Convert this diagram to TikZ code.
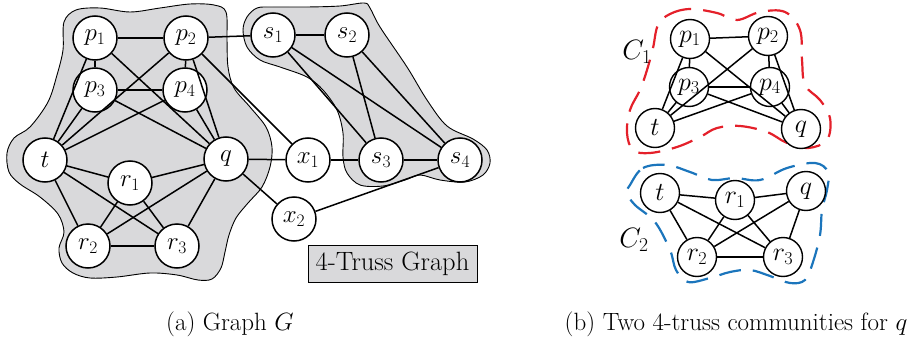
\RequirePackage{fix-cm}
\documentclass[tikz,border=0pt]{standalone}
\begin{document}
\begin{tikzpicture}[x=1pt,y=-1pt,
  vtx/.style={circle, draw, line width=1.5pt, fill=white, minimum size=44pt, inner sep=0pt, font=\fontsize{25}{25}\selectfont},
  svtx/.style={circle, draw, line width=1.4pt, fill=white, minimum size=39pt, inner sep=0pt, font=\fontsize{26}{26}\selectfont},
  edge/.style={line width=1.5pt},
  blob/.style={fill=blobgray, draw=black, line width=0.9pt},
  captext/.style={anchor=base, font=\fontsize{25}{25}\selectfont},
  redline/.style={draw=myred, line width=2.2pt, dash pattern=on 22pt off 12pt},
  blueline/.style={draw=myblue, line width=2.2pt, dash pattern=on 22pt off 12pt}
]
\definecolor{blobgray}{HTML}{D9D9DB}
\definecolor{myred}{HTML}{E4202A}
\definecolor{myblue}{HTML}{1B75BC}
\useasboundingbox (0,0) rectangle (924,340);

% blobs
\draw[blob] plot[smooth cycle, tension=0.55] coordinates {
 (64,22) (76,10) (100,8) (130,12) (160,8) (190,4) (214,5) (226,12) (227,40) (228,67)
 (234,88) (250,107) (266,127) (272,147) (270,167) (262,187) (248,203) (236,218)
 (229,235) (225,252) (221,268) (212,279) (198,280) (177,275) (150,273) (117,277)
 (90,278) (73,273) (62,263) (59,248) (64,232) (58,214) (40,197) (20,184) (9,172)
 (7,153) (14,138) (30,127) (48,102) (57,75) (63,50)};
\draw[blob] plot[smooth cycle, tension=0.55] coordinates {
 (247,17) (257,8) (273,7) (307,7) (340,6) (364,3) (370,8) (380,27) (407,67) (427,100)
 (447,126) (473,139) (487,150) (490,163) (483,175) (465,182) (440,180) (420,175)
 (405,180) (383,186) (360,185) (347,173) (343,157) (343,133) (337,110) (323,90)
 (307,77) (280,67) (260,60) (247,47) (243,30)};

% left graph nodes
\node[vtx] (p1) at (95,38) {$p_1$};
\node[vtx] (p2) at (186,38) {$p_2$};
\node[vtx] (p3) at (95,90) {$p_3$};
\node[vtx] (p4) at (185,90) {$p_4$};
\node[vtx] (t) at (45,160) {$t$};
\node[vtx] (q) at (226,159) {$q$};
\node[vtx] (r1) at (130,183) {$r_1$};
\node[vtx] (r2) at (88,246) {$r_2$};
\node[vtx] (r3) at (177,246) {$r_3$};
\node[vtx] (s1) at (273,35) {$s_1$};
\node[vtx] (s2) at (347,35) {$s_2$};
\node[vtx] (x1) at (308,160) {$x_1$};
\node[vtx] (s3) at (381,160) {$s_3$};
\node[vtx] (s4) at (460,160) {$s_4$};
\node[vtx] (x2) at (294,219) {$x_2$};

\foreach \a/\b in {p1/p2,p1/p3,p2/p4,p3/p4,p1/t,p3/t,p2/t,p4/t,p1/q,p3/q,p2/q,p4/q,
  t/r1,t/r2,t/r3,q/r1,q/r2,q/r3,r1/r2,r1/r3,r2/r3,
  p2/s1,p2/x1,q/x1,q/x2,x1/s3,x2/s4,s1/s2,s1/s3,s1/s4,s2/s3,s2/s4,s3/s4}
  \draw[edge] (\a) -- (\b);

\node[draw, fill=blobgray, line width=1pt, minimum width=169pt, minimum height=37pt, inner sep=0pt,
  font=\fontsize{26.5}{26.5}\selectfont] (box) at (392.5,263.5) {4-Truss Graph};

% right panel C1
\draw[redline] plot[smooth cycle, tension=0.6] coordinates {
 (658,25) (670,14) (690,9) (717,13) (737,20) (760,12) (785,12) (800,30) (802,60) (805,85)
 (820,100) (830,118) (827,140) (808,148) (787,143) (767,132) (740,126) (717,128)
 (700,137) (677,147) (650,153) (633,150) (627,133) (630,110) (640,90) (647,70) (653,48)};
\node[svtx] (cp1) at (690,39) {$p_1$};
\node[svtx] (cp2) at (768,36) {$p_2$};
\node[svtx] (cp3) at (689,87) {$p_3$};
\node[svtx] (cp4) at (770,87) {$p_4$};
\node[svtx] (ct) at (655,128) {$t$};
\node[svtx] (cq) at (801,129) {$q$};
\foreach \a/\b in {cp1/cp2,cp1/cp3,cp2/cp4,cp3/cp4,cp1/ct,cp3/ct,cp2/ct,cp4/ct,cp1/cq,cp3/cq,cp2/cq,cp4/cq}
  \draw[edge] (\a) -- (\b);
\node[font=\fontsize{28}{28}\selectfont] (lc1) at (637,52) {$C_1$};

% right panel C2
\draw[blueline] plot[smooth cycle, tension=0.6] coordinates {
 (630,185) (643,168) (667,165) (690,172) (712,180) (735,178) (760,180) (787,168) (815,163)
 (828,172) (827,190) (822,210) (820,235) (813,262) (805,280) (790,283) (770,276) (750,270)
 (730,272) (710,278) (688,282) (676,270) (670,250) (655,222) (635,205) (627,193)};
\node[svtx] (dt) at (660,193) {$t$};
\node[svtx] (dr1) at (735,200) {$r_1$};
\node[svtx] (dq) at (806,191) {$q$};
\node[svtx] (dr2) at (697,257) {$r_2$};
\node[svtx] (dr3) at (783,257) {$r_3$};
\foreach \a/\b in {dt/dr1,dt/dr2,dt/dr3,dr1/dq,dr1/dr2,dr1/dr3,dq/dr2,dq/dr3,dr2/dr3}
  \draw[edge] (\a) -- (\b);
\node[font=\fontsize{28}{28}\selectfont] (lc2) at (634,240) {$C_2$};

% captions
\node[captext] (capa) at (230,330) {(a) Graph $G$};
\node[captext] (capb) at (736,330) {(b) Two 4-truss communities for $q$};
\end{tikzpicture}
\end{document}
